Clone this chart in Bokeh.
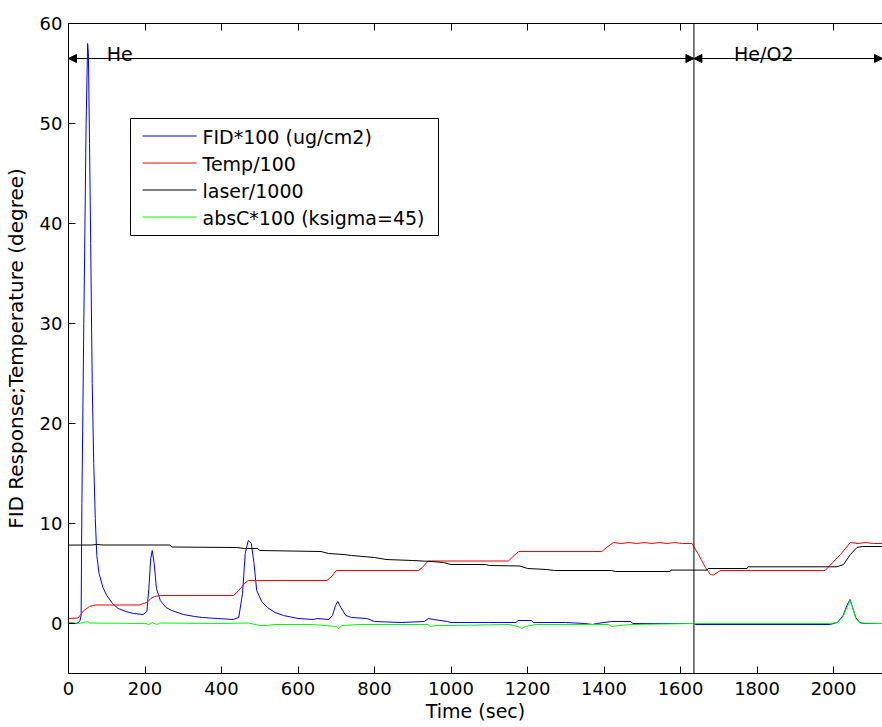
from bokeh.plotting import figure
from bokeh.models import (Range1d, FixedTicker, LinearAxis, Span, Arrow, NormalHead, Label,
                          BoxAnnotation)
from bokeh.embed import file_html
from bokeh.resources import INLINE

# ---- data ----
fid_t = [0, 20, 26, 30, 33, 35, 40, 46, 50, 52, 55, 58, 62, 66, 70, 74, 80, 90, 100, 115, 130, 150, 170,
         195, 205, 210, 215, 219, 224, 230, 240, 255, 270, 300, 330, 350, 390, 430, 445, 455, 462, 470,
         478, 485, 492, 505, 520, 540, 562, 600, 640, 650, 680, 690, 698, 704, 712, 725, 740, 780, 800,
         870, 930, 941, 955, 990, 1000, 1100, 1170, 1175, 1210, 1215, 1300, 1350, 1370, 1380, 1420,
         1470, 1475, 1635, 1640, 1990, 2010, 2025, 2035, 2043, 2050, 2058, 2068, 2080, 2128]
fid_v = [0.1, 0.0, 0.1, 0.3, 0.8, 12, 30, 50, 58, 57, 48, 38, 24, 16, 10.5, 6.8, 5.0, 3.6, 2.8, 2.0, 1.5,
         1.2, 1.0, 0.9, 1.2, 3.5, 6.5, 7.3, 6.0, 3.5, 2.3, 1.6, 1.3, 0.9, 0.7, 0.6, 0.5, 0.4, 0.6, 3.0,
         7.0, 8.3, 8.0, 6.0, 3.3, 2.2, 1.6, 1.1, 0.8, 0.5, 0.4, 0.5, 0.4, 0.8, 1.8, 2.2, 1.6, 0.8, 0.6,
         0.5, 0.2, 0.1, 0.2, 0.5, 0.4, 0.2, 0.1, 0.1, 0.1, 0.3, 0.3, 0.1, 0.1, 0.0, -0.1, 0.0, 0.2, 0.2,
         0.0, 0.0, -0.1, -0.1, 0.1, 0.8, 1.8, 2.4, 1.6, 0.6, 0.1, 0.0, 0.0]

temp_t = [0, 25, 30, 40, 55, 70, 185, 195, 205, 215, 225, 240, 432, 445, 460, 470, 676, 690, 700, 915,
          925, 940, 1150, 1165, 1177, 1394, 1410, 1425, 1445, 1465, 1485, 1505, 1525, 1545, 1565, 1585,
          1605, 1630, 1647, 1665, 1678, 1686, 1704, 1978, 2018, 2044, 2064, 2084, 2104, 2128]
temp_v = [0.5, 0.55, 0.8, 1.3, 1.7, 1.85, 1.85, 2.0, 2.1, 2.5, 2.7, 2.8, 2.8, 3.3, 4.0, 4.3, 4.3, 4.8,
          5.3, 5.3, 5.6, 6.25, 6.25, 6.8, 7.2, 7.2, 7.7, 8.1, 8.0, 8.1, 8.0, 8.1, 8.0, 8.1, 8.0, 8.1, 8.0,
          8.0, 6.9, 5.6, 4.9, 4.85, 5.3, 5.3, 6.9, 8.1, 8.0, 8.1, 8.0, 8.0]

laser_t = [0, 60, 75, 90, 265, 270, 440, 460, 495, 500, 660, 680, 720, 740, 800, 830, 900, 950, 980, 1000,
           1090, 1100, 1180, 1200, 1250, 1270, 1420, 1430, 1573, 1575, 1669, 1672, 1774, 1776, 2009, 2026,
           2044, 2061, 2075, 2128]
laser_v = [7.84, 7.85, 7.9, 7.85, 7.85, 7.65, 7.6, 7.5, 7.5, 7.3, 7.2, 7.0, 6.9, 6.8, 6.6, 6.4, 6.3, 6.2,
           6.1, 5.9, 5.9, 5.8, 5.75, 5.5, 5.4, 5.3, 5.3, 5.2, 5.2, 5.34, 5.34, 5.5, 5.5, 5.67, 5.67, 5.9,
           6.9, 7.6, 7.7, 7.7]

absc_t = [0, 25, 50, 55, 200, 210, 220, 230, 240, 390, 470, 500, 520, 540, 640, 700, 706, 715, 760, 940,
          945, 960, 1000, 1150, 1175, 1185, 1195, 1220, 1350, 1410, 1420, 1440, 1470, 1635, 1990, 2010,
          2025, 2035, 2043, 2050, 2058, 2068, 2128]
absc_v = [0.1, 0.0, 0.2, 0.05, 0.0, -0.1, 0.1, -0.1, 0.05, 0.0, 0.05, -0.2, -0.2, -0.1, -0.1, -0.3, -0.5,
          -0.2, -0.1, -0.1, -0.3, -0.2, -0.2, -0.1, -0.3, -0.5, -0.3, -0.1, -0.1, -0.1, -0.3, -0.2, -0.1,
          0.0, 0.0, 0.1, 0.7, 1.6, 2.3, 1.6, 0.5, 0.05, 0.0]

series_names = ["FID*100 (ug/cm2)", "Temp/100", "laser/1000", "absC*100 (ksigma=45)"]
series_colors = ["#0000ff", "#ff0000", "#000000", "#00ff00"]

phase_names = ["He", "He/O2"]
phase_start = [0, 1635]
phase_end = [1635, 2128]

x_ticks = [0, 200, 400, 600, 800, 1000, 1200, 1400, 1600, 1800, 2000]
y_ticks = [0, 10, 20, 30, 40, 50, 60]

FONT = "DejaVu Sans"

p = figure(width=882, height=727, x_range=Range1d(0, 2128), y_range=Range1d(-5, 60),
           output_backend="svg", toolbar_location=None,
           min_border_left=68, min_border_right=0, min_border_top=23, min_border_bottom=54)
p.outline_line_color = None
p.grid.visible = False
p.background_fill_color = "white"

for ax in (p.xaxis[0], p.yaxis[0]):
    ax.major_tick_in = 7
    ax.major_tick_out = 0
    ax.minor_tick_line_color = None
    ax.axis_line_color = "black"
    ax.major_tick_line_color = "black"
    ax.major_label_text_font = FONT
    ax.major_label_text_font_size = "18px"
    ax.major_label_text_color = "black"
    ax.axis_label_text_font = FONT
    ax.axis_label_text_font_style = "normal"
    ax.axis_label_text_color = "black"

p.xaxis[0].ticker = FixedTicker(ticks=x_ticks)
p.yaxis[0].ticker = FixedTicker(ticks=y_ticks)
p.xaxis[0].axis_label = "Time (sec)"
p.yaxis[0].axis_label = "FID Response;Temperature (degree)"
p.xaxis[0].axis_label_text_font_size = "19px"
p.yaxis[0].axis_label_text_font_size = "20px"
p.xaxis[0].major_label_standoff = 8
p.xaxis[0].axis_label_standoff = 2
p.yaxis[0].major_label_standoff = 6
p.yaxis[0].axis_label_standoff = 9

top = LinearAxis(ticker=FixedTicker(ticks=x_ticks), major_tick_in=7, major_tick_out=0,
                 minor_tick_line_color=None, major_label_text_color=None,
                 major_label_text_font_size="1px", major_label_standoff=0,
                 axis_line_color="black")
p.add_layout(top, "above")

series = [(fid_t, fid_v), (temp_t, temp_v), (laser_t, laser_v), (absc_t, absc_v)]
for (t, v), c in zip(series, series_colors):
    p.line(t, v, line_color=c, line_width=1)

# phase boundary & arrows
p.add_layout(Span(location=phase_start[1], dimension="height", line_color="black", line_width=1))
label_x = [100, 1740]
for s, e, name, lx in zip(phase_start, phase_end, phase_names, label_x):
    p.add_layout(Arrow(start=NormalHead(size=8, fill_color="black", line_color="black"),
                       end=NormalHead(size=8, fill_color="black", line_color="black"),
                       x_start=s, y_start=56.5, x_end=e, y_end=56.5,
                       line_color="black", line_width=1))
    p.add_layout(Label(x=lx, y=57.0, text=name, text_font=FONT, text_font_size="19px",
                       text_baseline="alphabetic", text_color="black"))

# legend box (screen units relative to plot frame bottom-left)
LEG_L, LEG_R, LEG_T, LEG_B = 62, 370, 555, 438
p.add_layout(BoxAnnotation(left=LEG_L, right=LEG_R, top=LEG_T, bottom=LEG_B,
                           left_units="screen", right_units="screen",
                           top_units="screen", bottom_units="screen",
                           fill_color="white", fill_alpha=1.0,
                           line_color="black", line_width=1, line_alpha=1.0))
row_y = [537, 510, 483, 456]
for name, c, ry in zip(series_names, series_colors, row_y):
    p.add_layout(Arrow(end=None, x_start=LEG_L + 12, x_end=LEG_L + 66,
                       y_start=ry + 0.5, y_end=ry + 0.5,
                       start_units="screen", end_units="screen",
                       line_color=c, line_width=1, line_alpha=1.0))
    p.add_layout(Label(x=LEG_L + 72, y=ry, x_units="screen", y_units="screen", text=name,
                       text_font=FONT, text_font_size="19px", text_baseline="middle",
                       text_color="black"))

open("out.html", "w").write(file_html(p, INLINE))
